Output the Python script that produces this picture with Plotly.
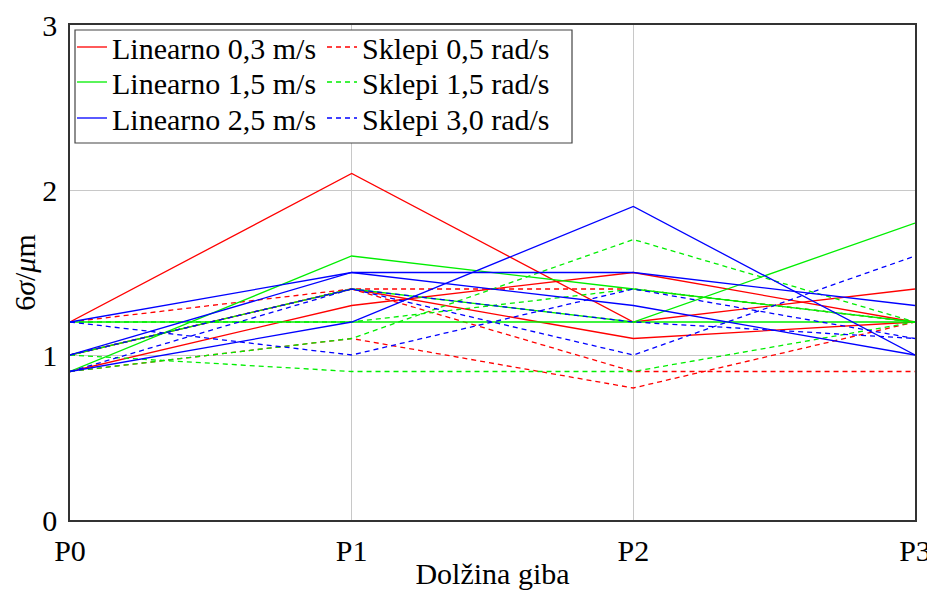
import plotly.graph_objects as go

categories = ["P0", "P1", "P2", "P3"]
y_ticks = [0, 1, 2, 3]

# three lines per series (values in um)
lin_03 = [[1.2, 2.1, 1.2, 1.4], [0.9, 1.3, 1.5, 1.2], [1.0, 1.4, 1.1, 1.2]]
skl_05 = [[1.2, 1.4, 1.4, 1.2], [1.0, 1.4, 0.9, 0.9], [0.9, 1.1, 0.8, 1.2]]
lin_15 = [[1.2, 1.2, 1.2, 1.8], [1.0, 1.4, 1.2, 1.2], [0.9, 1.6, 1.4, 1.2]]
skl_15 = [[1.2, 1.2, 1.4, 1.2], [1.0, 0.9, 0.9, 1.2], [0.9, 1.1, 1.7, 1.2]]
lin_25 = [[1.2, 1.5, 1.5, 1.3], [1.0, 1.5, 1.3, 1.0], [0.9, 1.2, 1.9, 1.0]]
skl_30 = [[1.2, 1.0, 1.4, 1.1], [1.0, 1.4, 1.2, 1.1], [0.9, 1.4, 1.0, 1.6]]

series = [
    ("Linearno 0,3 m/s", lin_03, "#ff0000", "solid"),
    ("Sklepi 0,5 rad/s", skl_05, "#ff0000", "5px,4px"),
    ("Linearno 1,5 m/s", lin_15, "#00ee00", "solid"),
    ("Sklepi 1,5 rad/s", skl_15, "#00ee00", "5px,4px"),
    ("Linearno 2,5 m/s", lin_25, "#0000ff", "solid"),
    ("Sklepi 3,0 rad/s", skl_30, "#0000ff", "5px,4px"),
]

# page is shown with an 8px body margin
OFF = 8
PAGE_W, PAGE_H = 935, 590
W, H = PAGE_W - OFF, PAGE_H - OFF
PLOT_L, PLOT_R, PLOT_T, PLOT_B = 70, 915, 25, 520  # page pixels
L, T = PLOT_L - OFF, PLOT_T - OFF
R, B = PAGE_W - PLOT_R, PAGE_H - PLOT_B
pw, ph = PLOT_R - PLOT_L, PLOT_B - PLOT_T

def px(x):
    return (x - PLOT_L) / pw

def py(y):
    return (PLOT_B - y) / ph

font_family = "Liberation Serif"
legend_cols = [72, 322]        # page x of each legend column
legend_rows = [47, 82, 118]    # page y of each legend row

fig = go.Figure()
legend_layouts = {}
for k, (name, lines, color, dash) in enumerate(series):
    leg_id = "legend" if k == 0 else f"legend{k + 1}"
    col, row = k % 2, k // 2
    legend_layouts[leg_id] = dict(
        x=px(legend_cols[col]), y=py(legend_rows[row]),
        xanchor="left", yanchor="middle",
        bgcolor="rgba(0,0,0,0)", borderwidth=0,
        font=dict(size=30), itemwidth=30,
    )
    for i, vals in enumerate(lines):
        fig.add_trace(go.Scatter(
            x=categories, y=vals, mode="lines", name=name,
            line=dict(color=color, width=1.3, dash=dash),
            showlegend=(i == 0), legend=leg_id,
        ))

fig.update_layout(
    width=W, height=H,
    margin=dict(l=L, r=R, t=T, b=B),
    paper_bgcolor="white", plot_bgcolor="white",
    font=dict(family=font_family, size=30, color="black"),
    shapes=[dict(type="rect", xref="paper", yref="paper",
                 x0=px(75), x1=px(572), y0=py(143), y1=py(30),
                 fillcolor="white", line=dict(color="#444", width=1.2),
                 layer="above")],
    **legend_layouts,
)

fig.update_xaxes(
    type="category", range=[0, 3],
    showline=True, mirror=True, linecolor="#333", linewidth=1.5,
    showgrid=True, gridcolor="#c8c8c8", gridwidth=1,
    ticks="outside", ticklen=3, tickcolor="rgba(0,0,0,0)",
    title=dict(text="Dolžina giba", standoff=0, font=dict(size=30)),
    automargin=False,
)
fig.update_yaxes(
    range=[0, 3], tickvals=y_ticks, ticktext=[str(v) for v in y_ticks],
    showline=True, mirror=True, linecolor="#333", linewidth=1.5,
    showgrid=True, gridcolor="#c8c8c8", gridwidth=1, zeroline=False,
    ticks="outside", ticklen=5, tickcolor="rgba(0,0,0,0)",
    title=dict(text="6<i>σ</i>/<i>μ</i>m", standoff=12, font=dict(size=30)),
    automargin=False,
)

fig.write_html("out.html")
